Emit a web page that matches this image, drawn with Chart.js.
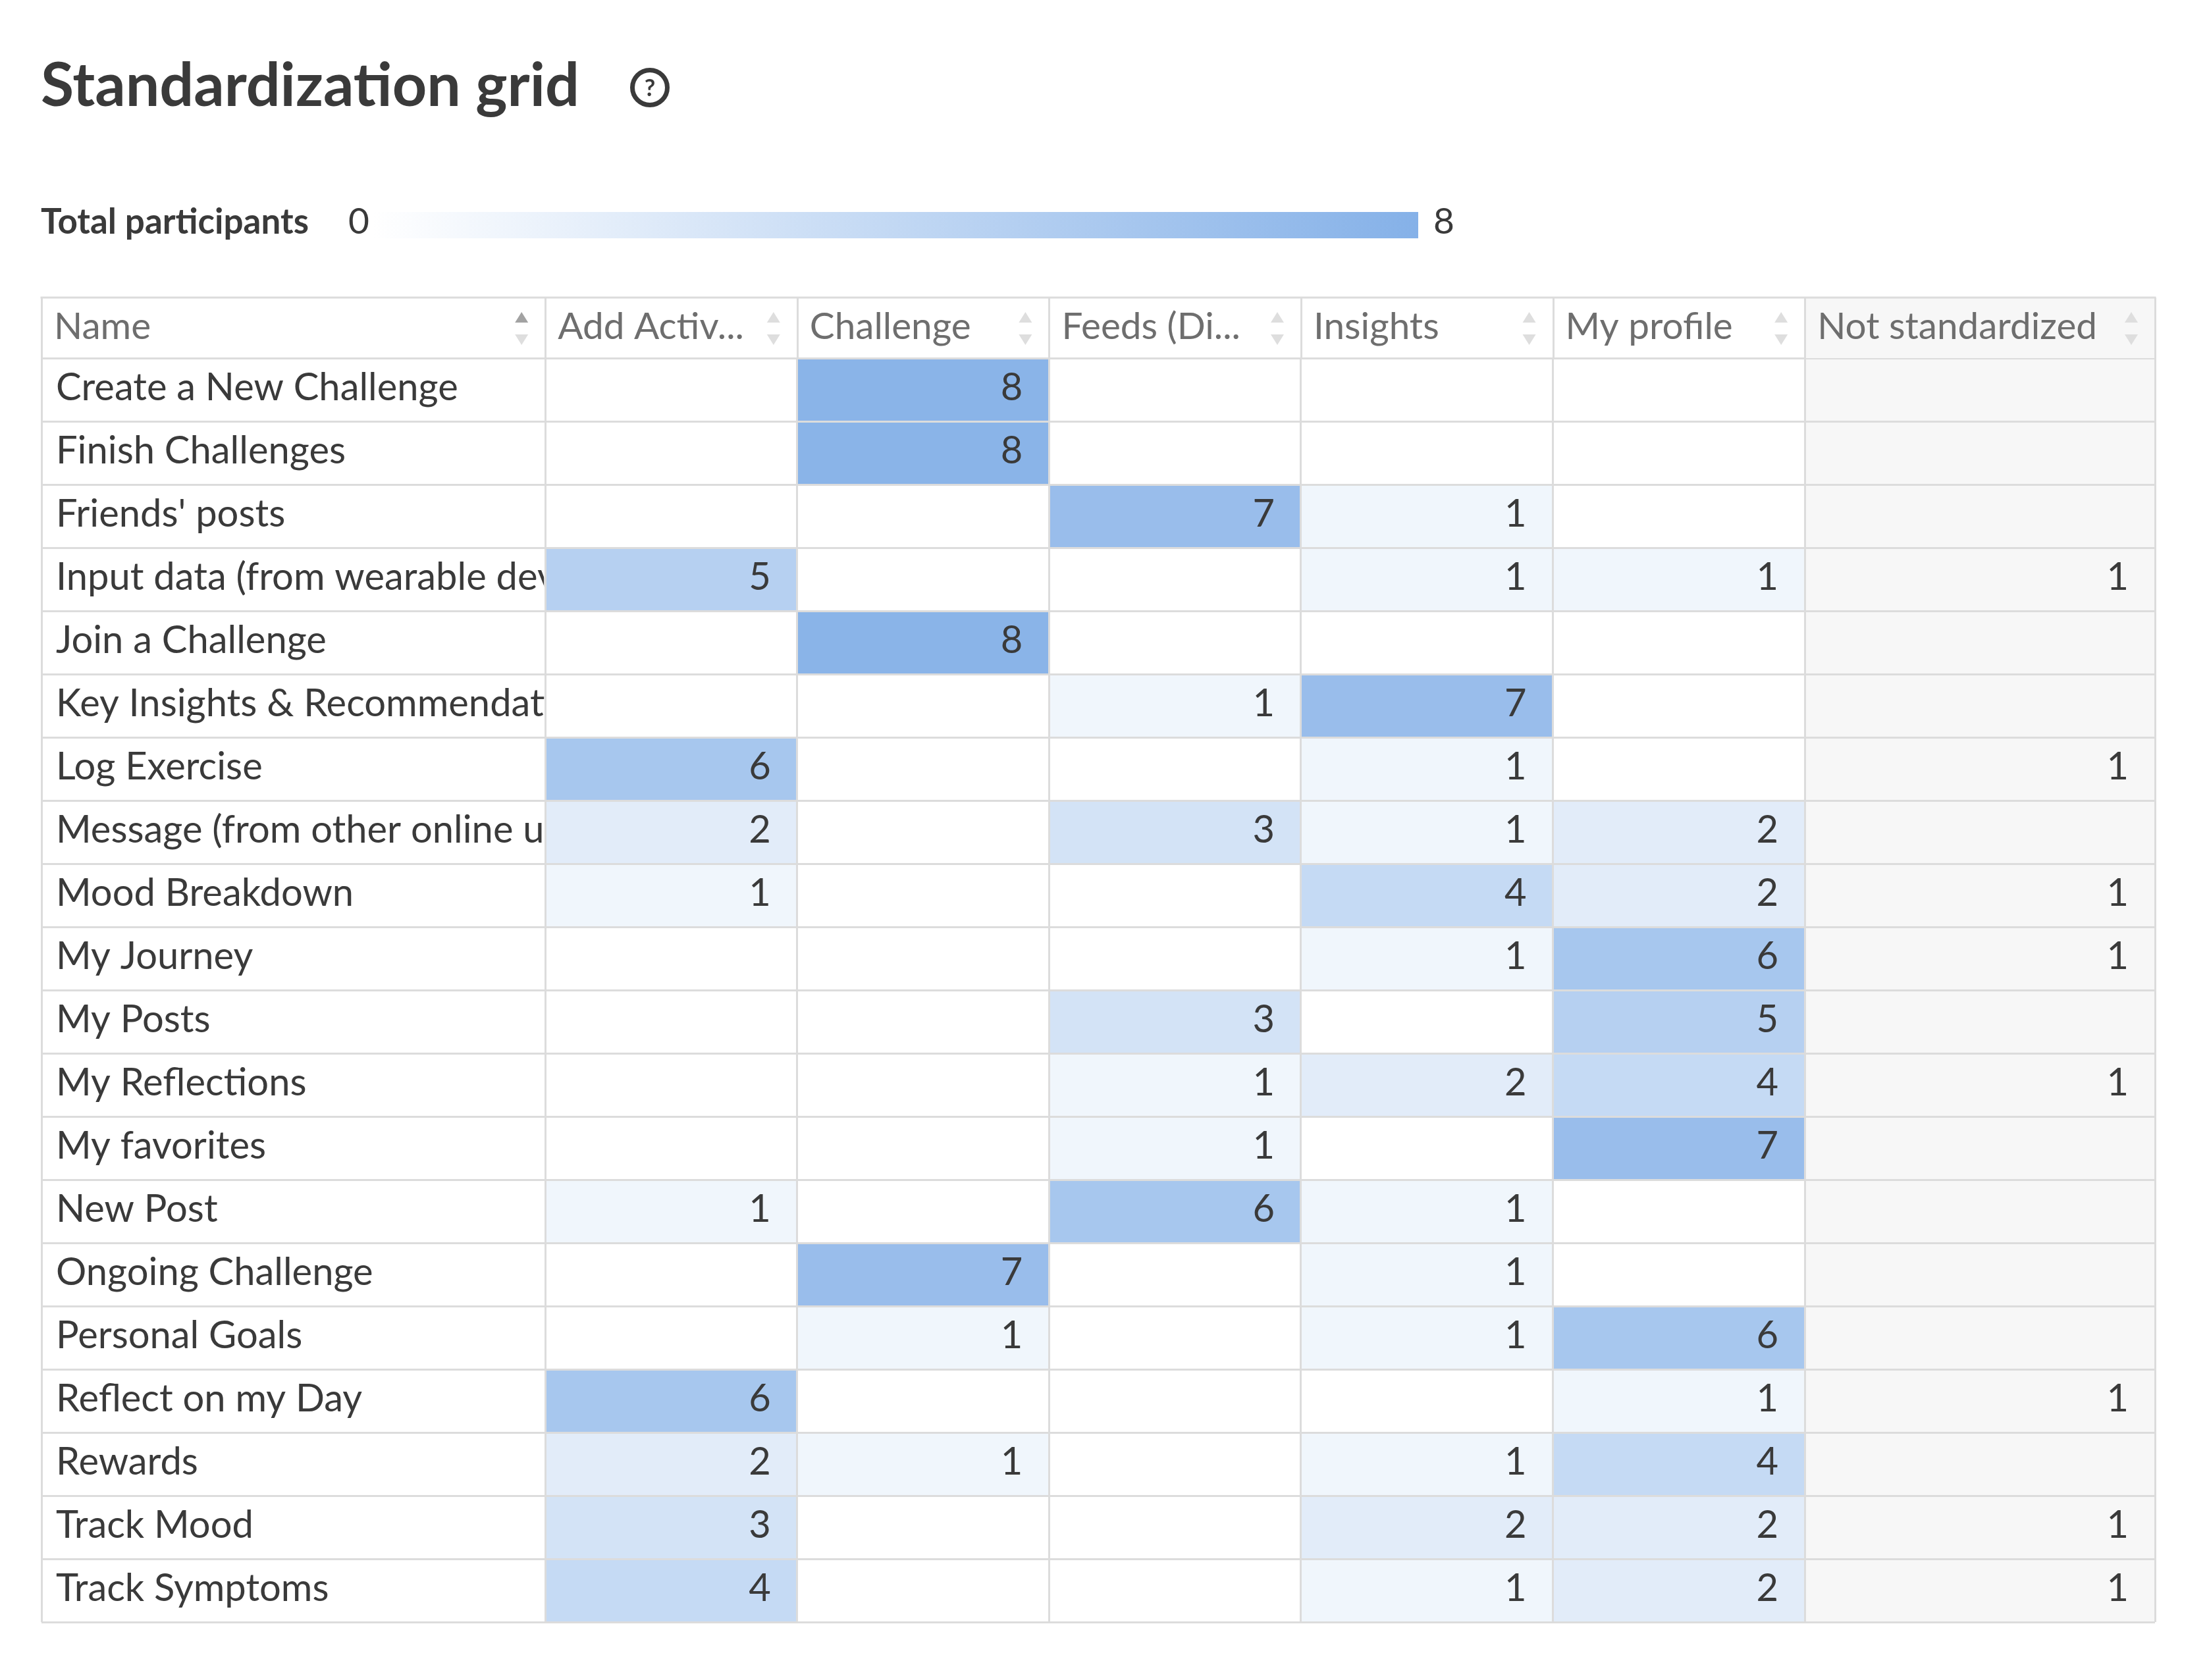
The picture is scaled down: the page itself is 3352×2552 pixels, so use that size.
<!DOCTYPE html>
<html>
<head>
<meta charset="utf-8">
<title>Standardization grid</title>
<script src="https://cdn.jsdelivr.net/npm/chart.js@4.4.1/dist/chart.umd.min.js"></script>
<style>
  html, body { margin: 0; padding: 0; background: #fff; }
  canvas { display: block; }
</style>
</head>
<body>
<canvas id="grid" width="3352" height="2552"></canvas>
<script>
// rows of the grid, top to bottom
const rowNames = [
  'Create a New Challenge', 'Finish Challenges', "Friends' posts",
  'Input data (from wearable devices)', 'Join a Challenge',
  'Key Insights & Recommendations', 'Log Exercise',
  'Message (from other online users)', 'Mood Breakdown', 'My Journey',
  'My Posts', 'My Reflections', 'My favorites', 'New Post',
  'Ongoing Challenge', 'Personal Goals', 'Reflect on my Day', 'Rewards',
  'Track Mood', 'Track Symptoms'
];
const columnLabels = ['Name', 'Add Activ...', 'Challenge', 'Feeds (Di...', 'Insights', 'My profile', 'Not standardized'];

// participant counts per column (null = empty cell)
const addActivity     = [null, null, null, 5, null, null, 6, 2, 1, null, null, null, null, 1, null, null, 6, 2, 3, 4];
const challenge       = [8, 8, null, null, 8, null, null, null, null, null, null, null, null, null, 7, 1, null, 1, null, null];
const feeds           = [null, null, 7, null, null, 1, null, 3, null, null, 3, 1, 1, 6, null, null, null, null, null, null];
const insights        = [null, null, 1, 1, null, 7, 1, 1, 4, 1, null, 2, null, 1, 1, 1, null, 1, 2, 1];
const myProfile       = [null, null, null, 1, null, null, null, 2, 2, 6, 5, 4, 7, null, null, 6, 1, 4, 2, 2];
const notStandardized = [null, null, null, 1, null, null, 1, null, 1, 1, null, 1, null, null, null, null, 1, null, 1, 1];

const scaleMin = 0;
const scaleMax = 8;

// layout
const FONT = 'Lato, "Open Sans", sans-serif';
const TEXT = '#3a3a3a';
const HEAD_TEXT = '#6e6e6e';
const LINE = '#dcdcdc';
const GREY_BG = '#f7f7f7';
const MAX_RGB = [138, 180, 232];
const colWidths = [2, 1, 1, 1, 1, 1, 1.39];   // in x-scale units
const colEdges = colWidths.reduce((acc, w) => acc.concat(acc[acc.length - 1] + w), [0]);
const TABLE = { left: 63, right: 3273, headTop: 452, top: 544, bottom: 2464 };

function cellColor(v) {
  const t = (v - scaleMin) / (scaleMax - scaleMin);
  const c = MAX_RGB.map(m => Math.round(255 + (m - 255) * t));
  return `rgb(${c[0]},${c[1]},${c[2]})`;
}

const valueColumns = [addActivity, challenge, feeds, insights, myProfile];

const datasets = valueColumns.map((vals, j) => ({
  label: columnLabels[j + 1],
  counts: vals,
  data: vals.map(v => v == null ? null : [colEdges[j + 1], colEdges[j + 2]]),
  backgroundColor: vals.map(v => v == null ? 'rgba(0,0,0,0)' : cellColor(v)),
}));
datasets.push({
  label: columnLabels[6],
  counts: notStandardized,
  data: notStandardized.map(() => [colEdges[6], colEdges[7]]),
  backgroundColor: GREY_BG,
});

const canvas = document.getElementById('grid');
const ctx0 = canvas.getContext('2d');
function fitSize(text, weight, width) {
  ctx0.font = `${weight} 100px ${FONT}`;
  return 100 * width / ctx0.measureText(text).width;
}
const titleSize = fitSize('Standardization grid', 'bold', 818);
const legendSize = fitSize('Total participants', 'bold', 407);
const bodySize = fitSize('Create a New Challenge', 'normal', 611);
const headSize = fitSize('Not standardized', 'normal', 425);

const tablePlugin = {
  id: 'tableText',
  afterDraw(chart) {
    const { ctx, scales: { x, y } } = chart;
    ctx.save();

    // title + help icon
    ctx.fillStyle = TEXT;
    ctx.font = `bold ${titleSize}px ${FONT}`;
    ctx.textBaseline = 'alphabetic';
    ctx.textAlign = 'left';
    ctx.fillText('Standardization grid', 62, 161);
    ctx.strokeStyle = TEXT;
    ctx.lineWidth = 7;
    ctx.beginPath();
    ctx.arc(987, 133, 26.5, 0, Math.PI * 2);
    ctx.stroke();
    ctx.font = `bold 36px ${FONT}`;
    ctx.textAlign = 'center';
    ctx.fillText('?', 987, 146);

    // colour legend
    ctx.textAlign = 'left';
    ctx.font = `bold ${legendSize}px ${FONT}`;
    ctx.fillText('Total participants', 62, 355);
    ctx.font = `normal ${legendSize * 1.04}px ${FONT}`;
    ctx.fillText(String(scaleMin), 529, 355);
    ctx.fillText(String(scaleMax), 2177, 355);
    const grad = ctx.createLinearGradient(567, 0, 2154, 0);
    grad.addColorStop(0, '#ffffff');
    grad.addColorStop(1, '#85b1e8');
    ctx.fillStyle = grad;
    ctx.fillRect(567, 322, 2154 - 567, 40);

    // header row
    const hTop = TABLE.headTop, hBot = y.top;
    ctx.fillStyle = GREY_BG;
    ctx.fillRect(x.getPixelForValue(colEdges[6]), hTop, x.getPixelForValue(colEdges[7]) - x.getPixelForValue(colEdges[6]), hBot - hTop);
    ctx.strokeStyle = LINE;
    ctx.lineWidth = 3;
    ctx.beginPath();
    ctx.moveTo(x.left - 1.5, hTop);
    ctx.lineTo(x.right + 1.5, hTop);
    colEdges.forEach(e => {
      const px = Math.round(x.getPixelForValue(e)) + 0.5;
      ctx.moveTo(px, hTop);
      ctx.lineTo(px, hBot);
    });
    ctx.stroke();

    ctx.font = `normal ${headSize}px ${FONT}`;
    columnLabels.forEach((lab, j) => {
      const l = x.getPixelForValue(colEdges[j]);
      const r = x.getPixelForValue(colEdges[j + 1]);
      ctx.fillStyle = HEAD_TEXT;
      ctx.fillText(lab, l + 19, 515);
      const cx = r - 36;
      ctx.fillStyle = j === 0 ? '#a2a2a2' : '#dedede';
      ctx.beginPath();
      ctx.moveTo(cx, 474); ctx.lineTo(cx + 10, 490); ctx.lineTo(cx - 10, 490); ctx.closePath();
      ctx.fill();
      ctx.fillStyle = '#dedede';
      ctx.beginPath();
      ctx.moveTo(cx - 10, 508); ctx.lineTo(cx + 10, 508); ctx.lineTo(cx, 524); ctx.closePath();
      ctx.fill();
    });

    // row names, clipped to the first column
    ctx.font = `normal ${bodySize}px ${FONT}`;
    ctx.fillStyle = TEXT;
    ctx.save();
    ctx.beginPath();
    ctx.rect(x.left, y.top, x.getPixelForValue(colEdges[1]) - x.left - 2, y.bottom - y.top);
    ctx.clip();
    rowNames.forEach((name, i) => {
      ctx.fillText(name, x.left + 22, y.getPixelForValue(i) + 16);
    });
    ctx.restore();

    // cell values, right aligned at the end of each bar
    ctx.textAlign = 'right';
    chart.data.datasets.forEach((ds, di) => {
      const meta = chart.getDatasetMeta(di);
      meta.data.forEach((bar, i) => {
        const v = ds.counts[i];
        if (v == null) return;
        ctx.fillText(String(v), bar.x - 40, bar.y + 16);
      });
    });
    ctx.restore();
  }
};

new Chart(canvas, {
  type: 'bar',
  data: { labels: rowNames, datasets },
  options: {
    responsive: false,
    animation: false,
    indexAxis: 'y',
    layout: {
      padding: { left: TABLE.left, right: 3352 - TABLE.right, top: TABLE.top, bottom: 2552 - TABLE.bottom }
    },
    datasets: {
      bar: { grouped: false, barPercentage: 1, categoryPercentage: 1, borderWidth: 0, borderSkipped: false }
    },
    scales: {
      x: {
        type: 'linear',
        min: colEdges[0],
        max: colEdges[colEdges.length - 1],
        afterBuildTicks: s => { s.ticks = colEdges.map(v => ({ value: v })); },
        ticks: { display: false },
        grid: { color: LINE, lineWidth: 3, drawTicks: false, z: 1 },
        border: { display: false }
      },
      y: {
        type: 'category',
        ticks: { display: false },
        grid: { offset: true, color: LINE, lineWidth: 3, drawTicks: false, z: 1 },
        border: { display: false }
      }
    },
    plugins: {
      legend: { display: false },
      tooltip: { enabled: false }
    }
  },
  plugins: [tablePlugin]
});
</script>
</body>
</html>
